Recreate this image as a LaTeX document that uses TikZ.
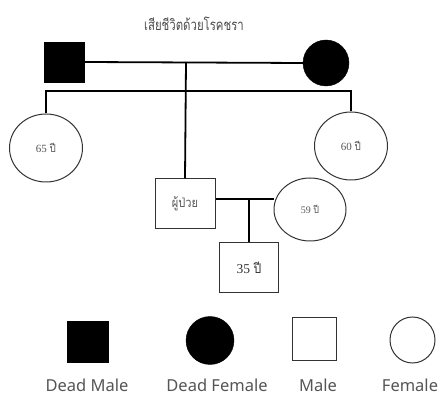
\documentclass[tikz,border=0pt]{standalone}
\usepackage{fontspec}
\usetikzlibrary{shapes.geometric}
\newfontfamily\thaifont[Script=Thai]{Loma}
\newfontfamily\numfont{Liberation Serif}
\newfontfamily\legfont{Noto Sans}
\definecolor{edge}{HTML}{333333}
\definecolor{txt}{HTML}{555555}
\tikzset{
  deadmale/.style={rectangle, fill=black, draw=black, minimum width=#1, minimum height=#1, inner sep=0pt},
  deadfemale/.style={circle, fill=black, draw=black, minimum size=#1, inner sep=0pt},
  malebox/.style={rectangle, draw=edge, line width=1pt, fill=white, inner sep=0pt},
  femaleell/.style={ellipse, draw=edge, line width=1pt, fill=white, inner sep=0pt},
  link/.style={line width=1.8pt, black},
  legtext/.style={font=\legfont\fontsize{16.5}{19}\selectfont, text=txt},
}
\begin{document}
\begin{tikzpicture}[x=1pt,y=-1pt]
\useasboundingbox (0,0) rectangle (442,395);
% title
\node[font=\thaifont\fontsize{15}{17}\selectfont, text=black!70] (title) at (194,24) {\scalebox{0.76}[1]{เสียชีวิตด้วยโรคชรา}};
% parents
\node[deadmale=40pt] (gf) at (64.5,62) {};
\node[deadfemale=46pt] (gm) at (326,63) {};
\coordinate (m1) at (186,62);
\coordinate (sib) at (186,91);
\draw[link] (gf.east) -- (gm.west);
% siblings
\node[femaleell, minimum width=73pt, minimum height=68pt] (s65) at (46,148)
  {\fontsize{11}{13}\selectfont\color{txt}\numfont 65 \thaifont\scalebox{0.9}[1]{ปี}};
\node[femaleell, minimum width=73pt, minimum height=68pt] (s60) at (351,146)
  {\fontsize{11}{13}\selectfont\color{txt}\numfont 60 \thaifont\scalebox{0.9}[1]{ปี}};
\node[malebox, minimum width=60pt, minimum height=50pt] (pat) at (185,204)
  {\fontsize{13}{15}\selectfont\color{txt}\thaifont\scalebox{0.85}[1]{ผู้ป่วย}};
\draw[link] (m1) -- (pat.north);
\draw[link] (s65.north) |- (sib) -| (s60.north);
% spouse and child
\node[femaleell, minimum width=72pt, minimum height=63pt] (wife) at (310,209.5)
  {\fontsize{10}{12}\selectfont\color{txt}\numfont 59 \thaifont\scalebox{0.9}[1]{ปี}};
\coordinate (m2) at (249,199);
\draw[link] (m2 -| pat.east) -- (m2 -| wife.west);
\node[malebox, minimum width=59pt, minimum height=50pt] (child) at (249,268)
  {\fontsize{13.5}{15}\selectfont\color{black!80}\numfont 35 \thaifont\scalebox{0.9}[1]{ปี}};
\draw[link] (m2) -- (child.north);
% legend
\node[deadmale=41pt] (ldm) at (87.5,341.5) {};
\node[deadfemale=48pt] (ldf) at (210,340.5) {};
\node[malebox, minimum width=44pt, minimum height=43pt] (lm) at (314,339.5) {};
\node[femaleell, minimum width=45pt, minimum height=46pt] (lf) at (412.5,340) {};
\node[legtext] (tdm) at (87,385) {Dead Male};
\node[legtext] (tdf) at (217,385) {Dead Female};
\node[legtext] (tm) at (318,385) {Male};
\node[legtext] (tf) at (410,385) {Female};
\end{tikzpicture}
\end{document}
